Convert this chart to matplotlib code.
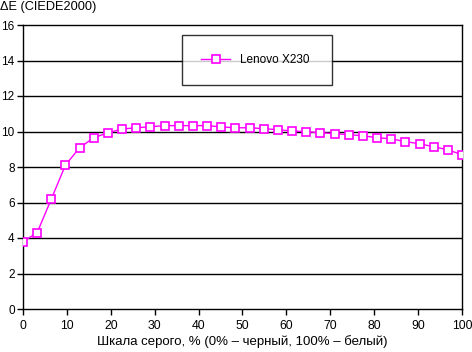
import numpy as np
import matplotlib
matplotlib.use("Agg")
import matplotlib.pyplot as plt

plt.rcParams['font.family'] = ['Liberation Sans', 'DejaVu Sans']

gray_pct = [i * 100 / 31 for i in range(32)]
delta_e = [3.79, 4.30, 6.20, 8.11, 9.09, 9.65, 9.93, 10.14, 10.21, 10.27,
           10.33, 10.33, 10.33, 10.33, 10.26, 10.21, 10.21, 10.16, 10.10, 10.03,
           9.99, 9.93, 9.88, 9.82, 9.76, 9.65, 9.59, 9.43, 9.31, 9.14, 8.97, 8.69]
series_name = "Lenovo X230"
xticks = list(range(0, 101, 10))
yticks = list(range(0, 17, 2))

fig = plt.figure(figsize=(4.72, 3.52), dpi=100)
ax = fig.add_axes([23/472, 1-309/352, (462-23)/472, (309-25)/352])
ax.plot(gray_pct, delta_e, color='#FF00FF', lw=1, marker='s', markersize=6,
        markerfacecolor='white', markeredgecolor='#FF00FF', markeredgewidth=1.2,
        label=series_name, zorder=3)
ax.set_xlim(0, 100)
ax.set_ylim(0, 16)
ax.set_xticks(xticks)
ax.set_yticks(yticks)
for y in yticks[1:-1]:
    ax.axhline(y, color='black', lw=1, zorder=1)
for s in ax.spines.values():
    s.set_color('black')
    s.set_linewidth(1)
ax.tick_params(direction='out', length=4, width=1, colors='black', labelsize=8.8, pad=4)
ax.tick_params(axis='y', labelsize=8.5, pad=2)
ax.set_xlabel("Шкала серого, % (0% – черный, 100% – белый)", fontsize=9.5, labelpad=2)
fig.text(0, 1-7/352, "ΔE (CIEDE2000)", fontsize=9.2, ha='left', va='center')
leg = ax.legend(loc='center', bbox_to_anchor=((182-23)/439, 1-(86-25)/284, 150/439, 52/284),
                mode='expand', frameon=True, fancybox=False, fontsize=8.5,
                borderaxespad=0, handlelength=2.5, borderpad=1.6)
leg.get_frame().set_edgecolor('black')
leg.get_frame().set_linewidth(1)
fig.savefig("out.png", dpi=100)
